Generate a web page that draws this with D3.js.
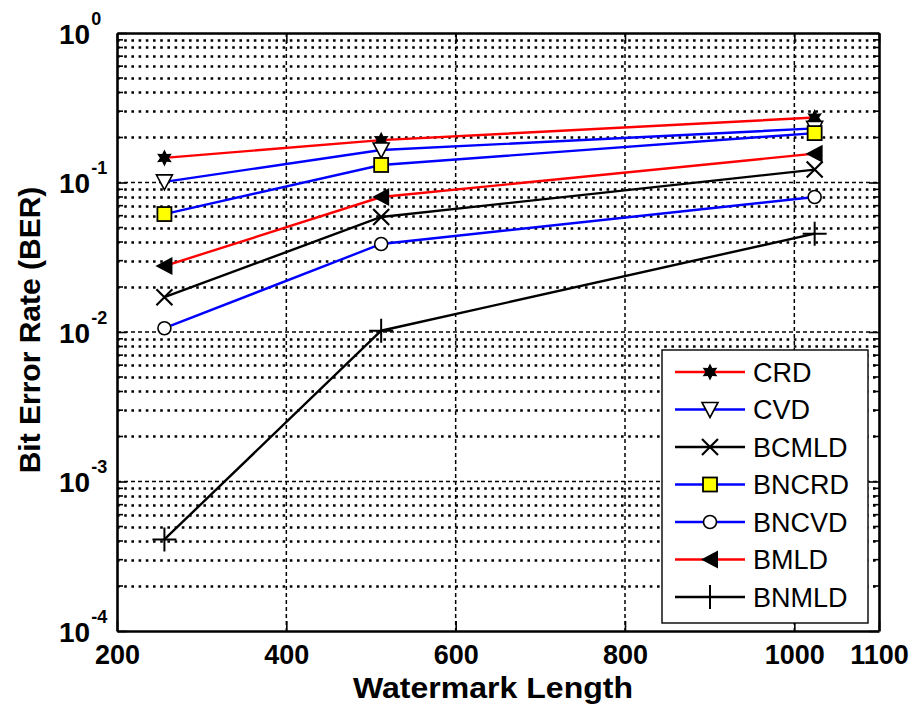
<!DOCTYPE html>
<html>
<head>
<meta charset="utf-8">
<script src="https://cdn.jsdelivr.net/npm/d3@7"></script>
<style>
  body { margin: 0; background: #fff; }
  svg { display: block; font-family: Arial, "Liberation Sans", Helvetica, sans-serif; }
</style>
</head>
<body>
<div id="chart"></div>
<script>
// watermark lengths on the x axis
const lengths = [256, 512, 1024];

// BER values per method
const crd   = [0.146, 0.192, 0.272];
const cvd   = [0.101, 0.165, 0.23];
const bcmld = [0.0171, 0.0588, 0.122];
const bncrd = [0.0615, 0.131, 0.214];
const bncvd = [0.0106, 0.0388, 0.08];
const bmld  = [0.0276, 0.08, 0.156];
const bnmld = [0.00041, 0.0102, 0.0455];

const seriesNames = ["CRD", "CVD", "BCMLD", "BNCRD", "BNCVD", "BMLD", "BNMLD"];
const seriesValues = [crd, cvd, bcmld, bncrd, bncvd, bmld, bnmld];
const seriesColors = ["#ff0000", "#0000ff", "#000000", "#0000ff", "#0000ff", "#ff0000", "#000000"];
const seriesMarkers = ["hexagram", "triDown", "cross", "square", "circle", "triLeft", "plus"];

const xTicks = [200, 400, 600, 800, 1000, 1100];
const xGrid = [400, 600, 800, 1000];
const yDecades = [-4, -3, -2, -1, 0];

const width = 920, height = 713;
const margin = {top: 33, right: 41, bottom: 82, left: 117};

const x = d3.scaleLinear().domain([200, 1100]).range([margin.left, width - margin.right]);
const y = d3.scaleLog().domain([1e-4, 1]).range([height - margin.bottom, margin.top]);

const svg = d3.select("#chart").append("svg")
    .attr("width", width)
    .attr("height", height);

// grid: minor horizontal (dotted), decades + vertical (dashed)
const minorVals = [];
yDecades.slice(0, -1).forEach(e => {
    for (let m = 2; m <= 9; m++) minorVals.push(m * Math.pow(10, e));
});

const grid = svg.append("g").attr("stroke", "#000").attr("fill", "none");
grid.selectAll("line.minor")
    .data(minorVals)
    .join("line")
    .attr("class", "minor")
    .attr("x1", margin.left).attr("x2", width - margin.right)
    .attr("y1", d => Math.round(y(d)) + 0.5).attr("y2", d => Math.round(y(d)) + 0.5)
    .attr("stroke-width", 2.6)
    .attr("stroke-dasharray", "2.6 4.6");

grid.selectAll("line.hmajor")
    .data([1e-3, 1e-2, 1e-1])
    .join("line")
    .attr("class", "hmajor")
    .attr("x1", margin.left).attr("x2", width - margin.right)
    .attr("y1", d => y(d)).attr("y2", d => y(d))
    .attr("stroke-width", 1.5)
    .attr("stroke-dasharray", "4 3");

grid.selectAll("line.vmajor")
    .data(xGrid)
    .join("line")
    .attr("class", "vmajor")
    .attr("x1", d => x(d)).attr("x2", d => x(d))
    .attr("y1", margin.top).attr("y2", height - margin.bottom)
    .attr("stroke-width", 1.5)
    .attr("stroke-dasharray", "4 3");

// minor ticks on left and right edges
grid.selectAll("line.mtl")
    .data(minorVals)
    .join("line")
    .attr("class", "mtl")
    .attr("x1", margin.left).attr("x2", margin.left + 6)
    .attr("y1", d => y(d)).attr("y2", d => y(d))
    .attr("stroke-width", 1.6);
grid.selectAll("line.mtr")
    .data(minorVals)
    .join("line")
    .attr("class", "mtr")
    .attr("x1", width - margin.right - 6).attr("x2", width - margin.right)
    .attr("y1", d => y(d)).attr("y2", d => y(d))
    .attr("stroke-width", 1.6);

// axes
const xAxis = d3.axisBottom(x).tickValues(xTicks).tickFormat(d3.format("d"))
    .tickSizeInner(-10).tickSizeOuter(0).tickPadding(14);
const gx = svg.append("g")
    .attr("transform", `translate(0,${height - margin.bottom})`)
    .call(xAxis);
gx.selectAll("text")
    .attr("font-size", 27)
    .attr("font-weight", "bold")
    .attr("fill", "#000");

const xTop = d3.axisTop(x).tickValues(xTicks).tickSizeInner(-10).tickSizeOuter(0).tickFormat("");
svg.append("g").attr("transform", `translate(0,${margin.top})`).call(xTop);

const yAxis = d3.axisLeft(y).tickValues(yDecades.map(e => Math.pow(10, e)))
    .tickSizeInner(-10).tickSizeOuter(0).tickFormat("");
const gy = svg.append("g")
    .attr("transform", `translate(${margin.left},0)`)
    .call(yAxis);
gy.selectAll(".tick text")
    .attr("text-anchor", "start")
    .attr("x", -58)
    .attr("y", 10)
    .attr("dy", null)
    .attr("fill", "#000")
    .each(function (d) {
        const t = d3.select(this);
        t.append("tspan").attr("font-size", 28).attr("font-weight", "bold").text("10");
        t.append("tspan").attr("font-size", 18).attr("font-weight", "bold")
            .attr("dy", -19).attr("dx", 1).text(Math.round(Math.log10(d)));
    });

const yRight = d3.axisRight(y).tickValues(yDecades.map(e => Math.pow(10, e)))
    .tickSizeInner(-10).tickSizeOuter(0).tickFormat("");
svg.append("g").attr("transform", `translate(${width - margin.right},0)`).call(yRight);

svg.selectAll(".domain").attr("stroke", "#000").attr("stroke-width", 2.6);
svg.selectAll(".tick line").attr("stroke", "#000").attr("stroke-width", 1.6);

// axis titles
svg.append("text")
    .attr("x", (margin.left + width - margin.right) / 2 - 5)
    .attr("y", 698)
    .attr("text-anchor", "middle")
    .attr("font-size", 30)
    .attr("font-weight", "bold")
    .attr("textLength", 280)
    .attr("lengthAdjust", "spacingAndGlyphs")
    .text("Watermark Length");

svg.append("text")
    .attr("transform", `translate(40,330) rotate(-90)`)
    .attr("text-anchor", "middle")
    .attr("font-size", 30)
    .attr("font-weight", "bold")
    .text("Bit Error Rate (BER)");

// markers
function drawMarker(g, type) {
    if (type === "hexagram") {
        const pts = [];
        for (let i = 0; i < 12; i++) {
            const r = i % 2 === 0 ? 8.5 : 4.5;
            const a = -Math.PI / 2 + i * Math.PI / 6;
            pts.push([r * Math.cos(a), r * Math.sin(a)]);
        }
        g.append("path").attr("d", "M" + pts.join("L") + "Z").attr("fill", "#000");
    } else if (type === "triDown") {
        g.append("path").attr("d", "M-8,-7L8,-7L0,8Z")
            .attr("fill", "#fff").attr("stroke", "#000").attr("stroke-width", 1.6);
    } else if (type === "cross") {
        g.append("path").attr("d", "M-8,-8L8,8M-8,8L8,-8")
            .attr("stroke", "#000").attr("stroke-width", 2.2);
    } else if (type === "square") {
        g.append("rect").attr("x", -7).attr("y", -7).attr("width", 14).attr("height", 14)
            .attr("fill", "#ffff00").attr("stroke", "#000").attr("stroke-width", 1.8);
    } else if (type === "circle") {
        g.append("circle").attr("r", 6.5)
            .attr("fill", "#fff").attr("stroke", "#000").attr("stroke-width", 1.6);
    } else if (type === "triLeft") {
        g.append("path").attr("d", "M-9,0L8,-9L8,9Z").attr("fill", "#000");
    } else if (type === "plus") {
        g.append("path").attr("d", "M-12,0L12,0M0,-12L0,12")
            .attr("stroke", "#000").attr("stroke-width", 2);
    }
}

const line = d3.line().x(d => x(d[0])).y(d => y(d[1]));

const plot = svg.append("g");
seriesValues.forEach((vals, i) => {
    const pts = lengths.map((l, j) => [l, vals[j]]);
    plot.append("path")
        .datum(pts)
        .attr("d", line)
        .attr("fill", "none")
        .attr("stroke", seriesColors[i])
        .attr("stroke-width", 2.4);
    plot.selectAll(null)
        .data(pts)
        .join("g")
        .attr("transform", d => `translate(${x(d[0])},${y(d[1])})`)
        .each(function () { drawMarker(d3.select(this), seriesMarkers[i]); });
});

// legend
const legend = svg.append("g");
legend.append("rect")
    .attr("x", 662).attr("y", 350).attr("width", 206).attr("height", 273)
    .attr("fill", "#fff").attr("stroke", "#000").attr("stroke-width", 1.4);

seriesNames.forEach((name, i) => {
    const cy = 372 + i * 37.5;
    const row = legend.append("g");
    row.append("line")
        .attr("x1", 675).attr("x2", 745).attr("y1", cy).attr("y2", cy)
        .attr("stroke", seriesColors[i]).attr("stroke-width", 2.4);
    drawMarker(row.append("g").attr("transform", `translate(710,${cy})`), seriesMarkers[i]);
    row.append("text")
        .attr("x", 753).attr("y", cy).attr("dy", "0.36em")
        .attr("font-size", 27)
        .text(name);
});
</script>
</body>
</html>
